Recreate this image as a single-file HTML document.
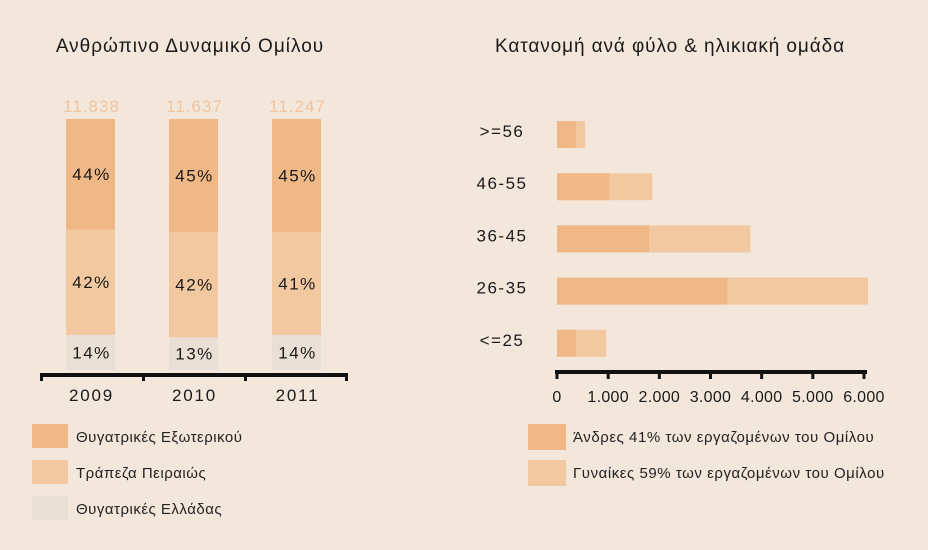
<!DOCTYPE html>
<html><head><meta charset="utf-8">
<style>
html,body{margin:0;padding:0;background:#f3e7dc;}
svg{display:block;font-family:"Liberation Sans",sans-serif;}
</style></head>
<body>
<svg id="c" width="928" height="550" viewBox="0 0 928 550">
<rect width="928" height="550" fill="#f3e7dc"/>
<text x="190" y="52" text-anchor="middle" font-size="19" letter-spacing="1" fill="#1a1a1a">Ανθρώπινο Δυναμικό Ομίλου</text>
<text x="670" y="52" text-anchor="middle" font-size="19" letter-spacing="0.9" fill="#1a1a1a">Κατανομή ανά φύλο &amp; ηλικιακή ομάδα</text>
<g id="left"></g>
<g id="right"></g>
<g>
<rect x="32" y="424" width="36" height="24" fill="#efb886"/>
<text x="76" y="442" font-size="15" letter-spacing="0.5" fill="#222">Θυγατρικές Εξωτερικού</text>
<rect x="32" y="460" width="36" height="24" fill="#f1c8a0"/>
<text x="76" y="478" font-size="15" letter-spacing="0.5" fill="#222">Τράπεζα Πειραιώς</text>
<rect x="32" y="496" width="36" height="24" fill="#eadfd5"/>
<text x="76" y="514" font-size="15" letter-spacing="0.5" fill="#222">Θυγατρικές Ελλάδας</text>
</g>
<g>
<rect x="528" y="424" width="38" height="26" fill="#efb886"/>
<text x="573" y="442" font-size="15" letter-spacing="0.55" fill="#222">Άνδρες 41% των εργαζομένων του Ομίλου</text>
<rect x="528" y="460" width="38" height="26" fill="#f1c8a0"/>
<text x="573" y="478" font-size="15" letter-spacing="0.55" fill="#222">Γυναίκες 59% των εργαζομένων του Ομίλου</text>
</g>
</svg>
<script>
const years = ["2009","2010","2011"];
const totals = ["11.838","11.637","11.247"];
const foreignPct = [44,45,45];
const bankPct = [42,42,41];
const greecePct = [14,13,14];

const ageGroups = [">=56","46-55","36-45","26-35","<=25"];
const menValues = [370,1020,1800,3330,370];
const totalValues = [550,1860,3780,6080,960];
const xTicks = [0,1000,2000,3000,4000,5000,6000];
const xTickLabels = ["0","1.000","2.000","3.000","4.000","5.000","6.000"];

const NS="http://www.w3.org/2000/svg";
function mk(tag,attrs,parent){const e=document.createElementNS(NS,tag);for(const k in attrs)e.setAttribute(k,attrs[k]);parent.appendChild(e);return e;}

// Left stacked chart
const L=document.getElementById('left');
const barTop=119, barBottom=370, barW=49;
const xCenter=i=>90.5+i*103;
const yPct=p=>barBottom-(p/100)*(barBottom-barTop);
years.forEach((y,i)=>{
  const cx=xCenter(i), x0=cx-barW/2;
  const segs=[[0,greecePct[i],'#eadfd5','greece'],[greecePct[i],greecePct[i]+bankPct[i],'#f1c8a0','bank'],[greecePct[i]+bankPct[i],greecePct[i]+bankPct[i]+foreignPct[i],'#efb886','foreign']];
  const vals=[greecePct[i],bankPct[i],foreignPct[i]];
  segs.forEach((s,j)=>{
    const y1=yPct(s[1]), y0=yPct(s[0]);
    const r=mk('rect',{x:x0,y:y1,width:barW,height:y0-y1,fill:s[2]},L);
    
    
    const t=mk('text',{x:cx+1,y:(y0+y1)/2+6,'text-anchor':'middle','font-size':17,'letter-spacing':1.5,fill:'#1a1a1a'},L);
    t.textContent=vals[j]+'%';
    
    
  });
  const tt=mk('text',{x:cx+1,y:112,'text-anchor':'middle','font-size':17,'letter-spacing':1,fill:'#f2c49c'},L);
  tt.textContent=totals[i];
  
  
  const yl=mk('text',{x:cx+1,y:401,'text-anchor':'middle','font-size':17,'letter-spacing':1.8,fill:'#1a1a1a'},L);
  yl.textContent=y;
  
  
});
const ax=mk('rect',{x:40,y:373,width:308,height:4,fill:'#111'},L);


[40,142,244,345].forEach((x,k)=>{
  const tk=mk('rect',{x:x,y:373,width:3,height:8,fill:'#111'},L);
  
  
});

// Right horizontal chart
const R=document.getElementById('right');
const x0R=557, pxPer=(864-557)/6000;
const xs=v=>x0R+v*pxPer;
const rowY=i=>121+i*52.2;
const barH=27;
ageGroups.forEach((g,i)=>{
  const y=rowY(i);
  const w=mk('rect',{x:x0R,y:y,width:xs(totalValues[i])-x0R,height:barH,fill:'#f1c8a0'},R);
  
  
  const m=mk('rect',{x:x0R,y:y,width:xs(menValues[i])-x0R,height:barH,fill:'#efb886'},R);
  
  
  const t=mk('text',{x:502,y:y+16,'text-anchor':'middle','font-size':17,'letter-spacing':1.5,fill:'#1a1a1a'},R);
  t.textContent=g;
  
  
});
const rax=mk('rect',{x:555,y:370,width:312,height:4,fill:'#111'},R);


xTicks.forEach((v,k)=>{
  const x=xs(v);
  const tk=mk('rect',{x:x-1.5,y:370,width:3,height:9,fill:'#111'},R);
  
  
  const tl=mk('text',{x:x,y:402,'text-anchor':'middle','font-size':16,'letter-spacing':0.3,fill:'#1a1a1a'},R);
  tl.textContent=xTickLabels[k];
  
  
});
</script>
</body></html>
